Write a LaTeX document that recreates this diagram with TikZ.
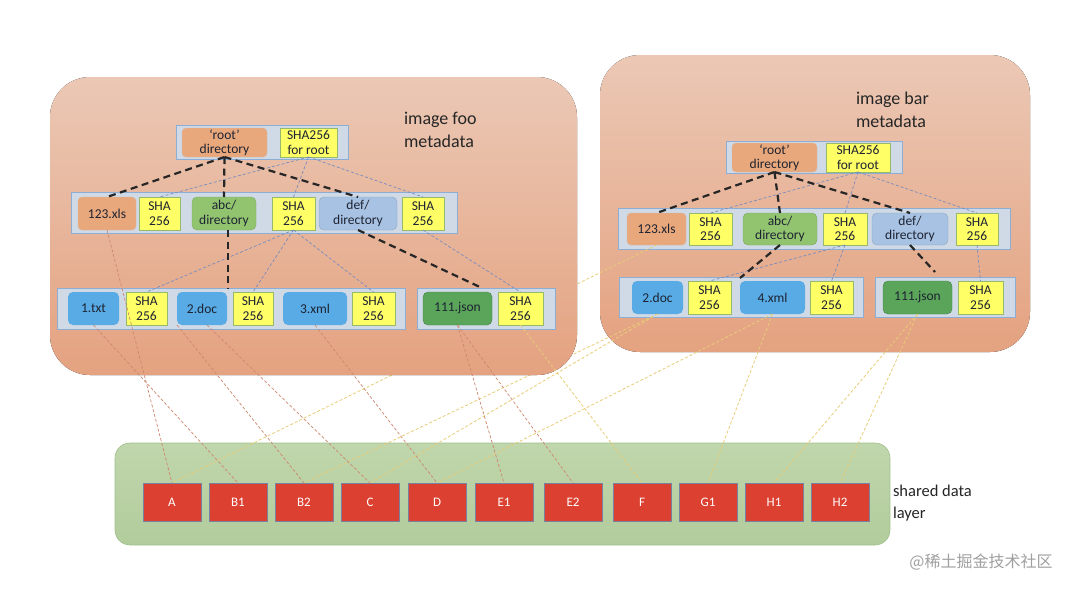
\documentclass[tikz,border=0pt]{standalone}
\usepackage{fontspec}
\setmainfont{Carlito}
\newfontfamily\cjkfont{Noto Sans CJK SC}
\usetikzlibrary{calc}
\pgfdeclarelayer{lzero}\pgfdeclarelayer{lone}\pgfdeclarelayer{ltwo}\pgfdeclarelayer{lthree}\pgfdeclarelayer{lfour}
\pgfsetlayers{lzero,lone,ltwo,lthree,lfour,main}
\definecolor{paneltop}{RGB}{235,200,181}
\definecolor{panelbot}{RGB}{228,162,128}
\definecolor{greentop}{RGB}{192,214,172}
\definecolor{greenbot}{RGB}{178,204,156}
\definecolor{greenedge}{RGB}{160,192,140}
\definecolor{barfill}{RGB}{207,218,230}
\definecolor{baredge}{RGB}{140,174,212}
\definecolor{orangefill}{RGB}{233,168,124}
\definecolor{yellowfill}{RGB}{255,255,102}
\definecolor{yellowedge}{RGB}{150,185,110}
\definecolor{abcfill}{RGB}{146,196,112}
\definecolor{deffill}{RGB}{167,194,226}
\definecolor{filefill}{RGB}{88,171,229}
\definecolor{jsonfill}{RGB}{90,165,90}
\definecolor{redfill}{RGB}{219,64,48}
\definecolor{rededge}{RGB}{120,130,160}
\definecolor{darktext}{RGB}{30,35,50}
\definecolor{hashcol}{RGB}{120,140,190}
\definecolor{foocol}{RGB}{205,135,110}
\definecolor{barcol}{RGB}{232,205,120}
\definecolor{wmcol}{RGB}{160,160,160}
\begin{document}
\begin{tikzpicture}[x=1pt,y=-1pt,
  every node/.style={inner sep=0pt, outer sep=0pt, anchor=north west, align=center, text=darktext,
    font=\fontsize{13.5}{14.5}\selectfont},
  panelbg/.style={top color=paneltop, bottom color=panelbot, rounded corners=40pt},
  barbox/.style={draw=baredge, line width=0.7pt, fill=barfill},
  orangebox/.style={draw=orangefill!80!black!60, line width=0.4pt, fill=orangefill, rounded corners=4pt, minimum height=#1},
  yellowbox/.style={draw=yellowedge, line width=0.5pt, fill=yellowfill, minimum height=#1},
  abcbox/.style={draw=abcfill!85!black, line width=0.4pt, fill=abcfill, rounded corners=5pt, minimum height=#1},
  defbox/.style={draw=deffill!85!black, line width=0.4pt, fill=deffill, rounded corners=5pt, minimum height=#1},
  filebox/.style={fill=filefill, rounded corners=5pt, minimum height=#1},
  jsonbox/.style={draw=jsonfill!80!black, line width=0.4pt, fill=jsonfill, rounded corners=5pt, minimum height=#1},
  redblock/.style={draw=rededge, line width=0.6pt, fill=redfill, minimum width=58pt, minimum height=38pt,
    text=white, font=\fontsize{13}{14}\selectfont},
  blackdash/.style={draw=black!85, line width=2.2pt, dash pattern=on 7pt off 4.5pt},
  hashdash/.style={draw=hashcol, line width=0.7pt, dash pattern=on 3pt off 2pt},
  foodata/.style={draw=foocol, line width=0.7pt, dash pattern=on 3pt off 2pt},
  bardata/.style={draw=barcol, line width=0.8pt, dash pattern=on 3pt off 2pt},
  heading/.style={anchor=west, align=left, font=\fontsize{18}{23}\selectfont, text=black!85}
]
\useasboundingbox (0,0) rectangle (1080,590);

\begin{pgfonlayer}{lzero}
\fill[white] (0,0) rectangle (1080,590);
\draw[greenedge, line width=0.6pt, top color=greentop, bottom color=greenbot, rounded corners=15pt] (115,443) rectangle (890,545);
\end{pgfonlayer}

% shared data layer blocks
\node[redblock] (A)  at (143,483) {A};
\node[redblock] (B1) at (209,483) {B1};
\node[redblock] (B2) at (275,483) {B2};
\node[redblock] (C)  at (341,483) {C};
\node[redblock] (D)  at (408,483) {D};
\node[redblock] (E1) at (475,483) {E1};
\node[redblock] (E2) at (544,483) {E2};
\node[redblock] (F)  at (613,483) {F};
\node[redblock] (G1) at (679,483) {G1};
\node[redblock] (H1) at (745,483) {H1};
\node[redblock] (H2) at (811,483) {H2};
\node[heading, font=\fontsize{16.5}{22}\selectfont] (sdl) at (893,503) {shared data\\layer};
\node[anchor=center, text=wmcol, font=\cjkfont\fontsize{16}{18}\selectfont] (wm) at (981,562) {@稀土掘金技术社区};

% ---------------- right panel (image bar)
\begin{pgfonlayer}{lone}
\fill[panelbg] (600,55) rectangle (1030,352);
\node[heading] (barhead) at (856,110) {image bar\\metadata};
\node[barbox, minimum width=176pt, minimum height=32pt] (Rrootbar) at (726,141) {};
\node[orangebox=29pt, minimum width=85pt] (Rroot) at (732,143) {‘root’\\directory};
\node[yellowbox=29pt, minimum width=64pt] (Rrootsha) at (826,143) {SHA256\\for root};
\node[barbox, minimum width=392pt, minimum height=41pt] (Rrow2) at (618,208) {};
\node[orangebox=32pt, minimum width=59pt] (Rxls) at (627,213) {123.xls};
\node[yellowbox=32pt, minimum width=43pt] (Rs1) at (689,213) {SHA\\256};
\node[abcbox=32pt, minimum width=74pt] (Rabc) at (743,213) {abc/\\directory};
\node[yellowbox=32pt, minimum width=44pt] (Rs2) at (823,213) {SHA\\256};
\node[defbox=32pt, minimum width=76pt] (Rdef) at (872,213) {def/\\directory};
\node[yellowbox=32pt, minimum width=42pt] (Rs3) at (956,213) {SHA\\256};
\node[barbox, minimum width=244pt, minimum height=40pt] (Rrow3a) at (619,277) {};
\node[filebox=33pt, minimum width=51pt] (Rdoc) at (632,281) {2.doc};
\node[yellowbox=33pt, minimum width=43pt] (Rs4) at (688,281) {SHA\\256};
\node[filebox=33pt, minimum width=65pt] (Rxml) at (740,281) {4.xml};
\node[yellowbox=33pt, minimum width=43pt] (Rs5) at (810,281) {SHA\\256};
\node[barbox, minimum width=140pt, minimum height=40pt] (Rrow3b) at (875,277) {};
\node[jsonbox=33pt, minimum width=69pt] (Rjson) at (883,281) {111.json};
\node[yellowbox=33pt, minimum width=45pt] (Rs6) at (958,281) {SHA\\256};
\coordinate (Rabcend) at (740,278);
\coordinate (Rdefend) at (935,272);
\draw[hashdash] (Rrootsha.south) -- (Rs1.north);
\draw[hashdash] (Rrootsha.south) -- (Rs2.north);
\draw[hashdash] (Rrootsha.south) -- (Rs3.north);
\draw[hashdash] (Rs2.south) -- (Rs4.north);
\draw[hashdash] (Rs2.south) -- (Rs5.north);
\draw[hashdash] (Rs3.south) -- (Rs6.north);
\draw[blackdash] (Rroot.south) -- (Rxls.north);
\draw[blackdash] (Rroot.south) -- (Rabc.north);
\draw[blackdash] (Rroot.south) -- (Rdef.north);
\draw[blackdash] (Rabc.south) -- (Rabcend);
\draw[blackdash] (Rdef.south) -- (Rdefend);
\end{pgfonlayer}

% ---------------- left panel (image foo)
\begin{pgfonlayer}{lthree}
\fill[panelbg] (50,77) rectangle (577,375);
\node[heading] (foohead) at (404,130) {image foo\\metadata};
\node[barbox, minimum width=172pt, minimum height=34pt] (rootbar) at (176,125) {};
\node[orangebox=29pt, minimum width=85pt] (root) at (182,128) {‘root’\\directory};
\node[yellowbox=29pt, minimum width=57pt] (rootsha) at (280,128) {SHA256\\for root};
\node[barbox, minimum width=386pt, minimum height=41pt] (row2) at (71,192) {};
\node[orangebox=33pt, minimum width=58pt] (xls) at (78,197) {123.xls};
\node[yellowbox=33pt, minimum width=41pt] (s1) at (139,197) {SHA\\256};
\node[abcbox=33pt, minimum width=64pt] (abc) at (192,197) {abc/\\directory};
\node[yellowbox=33pt, minimum width=43pt] (s2) at (272,197) {SHA\\256};
\node[defbox=33pt, minimum width=78pt] (def) at (319,197) {def/\\directory};
\node[yellowbox=33pt, minimum width=42pt] (s3) at (402,197) {SHA\\256};
\node[barbox, minimum width=348pt, minimum height=41pt] (row3a) at (57,288) {};
\node[filebox=33pt, minimum width=51pt] (txt) at (68,292) {1.txt};
\node[yellowbox=33pt, minimum width=41pt] (s4) at (126,292) {SHA\\256};
\node[filebox=33pt, minimum width=50pt] (doc) at (177,292) {2.doc};
\node[yellowbox=33pt, minimum width=40pt] (s5) at (233,292) {SHA\\256};
\node[filebox=33pt, minimum width=64pt] (xml) at (283,292) {3.xml};
\node[yellowbox=33pt, minimum width=43pt] (s6) at (352,292) {SHA\\256};
\node[barbox, minimum width=138pt, minimum height=41pt] (row3b) at (417,288) {};
\node[jsonbox=33pt, minimum width=69pt] (json) at (423,292) {111.json};
\node[yellowbox=33pt, minimum width=45pt] (s7) at (498,292) {SHA\\256};
\coordinate (abcend) at (228,289);
\coordinate (defend) at (482,288);
\draw[hashdash] (rootsha.south) -- (s1.north);
\draw[hashdash] (rootsha.south) -- (s2.north);
\draw[hashdash] (rootsha.south) -- (s3.north);
\draw[hashdash] (s2.south) -- (s4.north);
\draw[hashdash] (s2.south) -- (s5.north);
\draw[hashdash] (s2.south) -- (s6.north);
\draw[hashdash] (s3.south) -- (s7.north);
\draw[blackdash] (root.south) -- (xls.north);
\draw[blackdash] (root.south) -- (abc.north);
\draw[blackdash] (root.south) -- (def.north);
\draw[blackdash] (abc.south -| abcend) -- (abcend);
\draw[blackdash] (def.south) -- (defend);
\end{pgfonlayer}

% ---------------- data links of image bar (behind image foo panel)
\begin{pgfonlayer}{ltwo}
\draw[bardata] (Rxls.south) -- (A.north);
\draw[bardata] (Rdoc.south) -- (B2.north);
\draw[bardata] (Rdoc.south) -- (C.north);
\draw[bardata] (Rxml.south) -- (D.north);
\draw[bardata] (Rxml.south) -- (G1.north);
\draw[bardata] (Rjson.south) -- (H1.north);
\draw[bardata] (Rjson.south) -- (H2.north);
\end{pgfonlayer}

% ---------------- data links of image foo
\begin{pgfonlayer}{lfour}
\draw[foodata] (xls.south) -- (A.north);
\draw[foodata] (txt.south) -- (B1.north);
\draw[foodata] (doc.south west) -- (B2.north);
\draw[foodata] ($(doc.south)+(5,0)$) -- (C.north);
\draw[foodata] (xml.south) -- (D.north);
\draw[foodata] (json.south) -- (E1.north);
\draw[foodata] (json.south) -- (E2.north);
\draw[bardata] (s7.south) -- (F.north);
\end{pgfonlayer}
\end{tikzpicture}
\end{document}
